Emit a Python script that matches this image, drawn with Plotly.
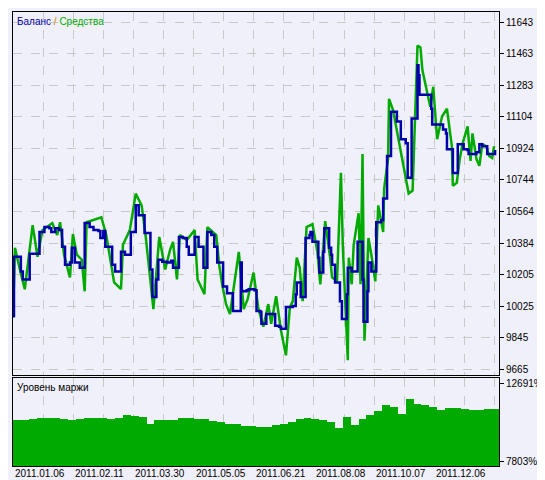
import plotly.graph_objects as go

# balance curve: trade index -> balance
bal_idx = [0, 0.5, 3, 4, 5, 7, 8.5, 12.5, 13.5, 16, 18.5, 19.5, 21.5, 23.5, 25, 26.5, 29, 30, 31.5, 34, 36,
           36.5, 39, 41, 43.5, 44.5, 46, 47, 49, 50.5, 52, 54, 55, 57, 59, 60, 61.5, 62.5, 64, 66.5, 67, 69,
           70, 71, 73, 74, 76, 78.5, 80.5, 81.5, 84, 84.5, 86.5, 88.5, 89.5, 91.5, 92.5, 94.5, 96.5, 97, 98.5,
           99, 101, 102.5, 104, 106.5, 107, 109, 111.5, 112, 114, 116, 116.5, 119, 120, 123, 124, 126, 126.5,
           128.5, 129, 132.5, 133.5, 135.5, 136.5, 138.5, 139, 142.5, 144, 144.5, 146, 146.5, 148.5, 149, 151,
           151.5, 152.5, 154.5, 155.5, 156, 157, 158, 158.5, 160, 161, 162, 162.5, 164, 166, 166.5, 167.5,
           169.5, 170, 170.5, 172.5, 175, 175.5, 177.5, 178, 178.5, 180, 180.5, 181, 182.5, 184.5, 185, 187.5,
           188.5, 190, 190.5, 192, 192.5, 194.5, 195.5, 197.5, 200, 201, 202.5, 203, 205, 206, 206.5, 207,
           211.5, 213, 213.5, 217.5, 219, 220.5, 221, 223.5, 224, 226, 226.5, 228.5, 229.5, 231.5, 232, 234.5,
           236, 237.5, 239, 241.5, 244, 245.5]
bal_val = [9969, 10306, 10306, 10222, 10177, 10177, 10323, 10323, 10447, 10475, 10469, 10447, 10469, 10458,
           10363, 10261, 10273, 10357, 10273, 10244, 10244, 10498, 10475, 10458, 10453, 10413, 10453, 10363,
           10363, 10261, 10222, 10222, 10334, 10318, 10318, 10447, 10447, 10599, 10543, 10543, 10441, 10441,
           10233, 10076, 10177, 10289, 10278, 10273, 10284, 10244, 10244, 10419, 10413, 10363, 10318, 10318,
           10419, 10363, 10363, 10244, 10244, 10447, 10430, 10363, 10273, 10273, 10137, 10098, 10098, 9997,
           9997, 10273, 10109, 10115, 10121, 10115, 9997, 9991, 9924, 9924, 9980, 9980, 9913, 9907, 9896,
           9896, 10019, 10025, 10092, 10160, 10160, 10076, 10076, 10413, 10430, 10447, 10391, 10391, 10301,
           10216, 10216, 10334, 10469, 10469, 10357, 10318, 10261, 10160, 10160, 10053, 9952, 9952, 10092,
           10244, 10222, 10222, 10391, 10391, 10177, 9935, 9935, 10109, 10273, 10222, 10222, 10503, 10514,
           10638, 10638, 10880, 10880, 11133, 11133, 11077, 10976, 10953, 10756, 10756, 11094, 11094, 11397,
           11341, 11229, 11229, 11150, 11060, 11060, 11032, 11009, 10919, 10919, 10784, 10784, 10947, 10947,
           10919, 10914, 10891, 10891, 10902, 10947, 10936, 10891, 10891, 10914]

# equity curve
eq_idx = [0, 1, 3.5, 6, 10, 12.5, 15, 20, 22.5, 24, 26, 29, 30.5, 32.5, 35, 36.5, 37.5, 45, 47.5, 51.5, 55,
          56, 59.5, 62.5, 65.5, 67.5, 71.5, 74.5, 77.5, 80, 81.5, 83.5, 85, 88.5, 92.5, 94, 97.5, 99, 103.5,
          105, 106.5, 108.5, 110.5, 115, 117.5, 119.5, 122.5, 125, 127.5, 130, 131.5, 134, 136.5, 139, 141,
          142.5, 144.5, 146, 147.5, 149.5, 152.5, 155, 156.5, 159, 161.5, 162.5, 165, 167, 168, 170.5, 171,
          172.5, 173.5, 176, 177, 178, 179, 181, 182.5, 184.5, 186, 188.5, 189, 191, 191.5, 193.5, 201.5,
          203.5, 206, 207.5, 208.5, 210.5, 212.5, 214, 216, 218.5, 221, 223.5, 224, 226, 227.5, 229, 231.5,
          233, 234, 236, 237.5, 239, 241, 242.5, 244, 245]
eq_val = [9958, 10357, 10233, 10121, 10486, 10306, 10458, 10498, 10430, 10503, 10318, 10188, 10436, 10318,
          10289, 10109, 10503, 10531, 10430, 10160, 10121, 10374, 10458, 10666, 10599, 10430, 10008, 10419,
          10233, 10346, 10391, 10177, 10430, 10402, 10458, 10177, 10092, 10475, 10430, 10261, 10149, 10036,
          9980, 10334, 10008, 10064, 10216, 10008, 9907, 10036, 9924, 10081, 9884, 9744, 10019, 10053, 10301,
          10244, 10053, 10475, 10492, 10334, 10149, 10509, 10301, 10188, 10166, 10784, 10357, 9716, 10301,
          10149, 10374, 10554, 10149, 10891, 9828, 10413, 10318, 10166, 10599, 10447, 10694, 10863, 11206,
          11144, 10666, 10683, 11510, 11499, 11369, 11257, 11161, 11274, 10976, 11105, 11150, 10936, 10711,
          10728, 10863, 10953, 11049, 10852, 11009, 10863, 10824, 10947, 10936, 10880, 10869, 10936]

# margin level, % (one bar per 4 trades)
margin_val = [10391, 10391, 10498, 10560, 10541, 10560, 10480, 10391, 10500, 10560, 10560, 10540, 10450,
              10520, 10705, 10664, 10600, 10185, 10391, 10400, 10435, 10520, 10541, 10498, 10470, 10350,
              10288, 10170, 10141, 10040, 10015, 9977, 9990, 10078, 10150, 10288, 10450, 10560, 10498, 10435,
              10300, 9871, 10604, 10100, 10500, 10705, 11000, 11331, 11231, 10811, 11751, 11438, 11331, 11231,
              11018, 11187, 11150, 11124, 11050, 11062, 11100, 11124]
margin_idx = [2 + 4 * i for i in range(len(margin_val))]

bal_ticks = [9665, 9845, 10025, 10205, 10384, 10564, 10744, 10924, 11104, 11283, 11463, 11643]
margin_ticks = [7803, 12691]
date_pos = [0, 30.65, 61.3, 91.95, 122.6, 153.25, 183.9, 214.55]
date_labels = ["2011.01.06", "2011.02.11", "2011.03.30", "2011.05.05",
               "2011.06.21", "2011.08.08", "2011.10.07", "2011.12.06"]

BG = "#f0f0fa"
GRID = "#c8c8c8"
GREEN = "#00aa00"
BLUE = "#0000aa"
FONT = "Liberation Sans"

fig = go.Figure()
fig.add_trace(go.Scatter(x=eq_idx, y=eq_val, mode="lines", line=dict(color=GREEN, width=2.5),
                         xaxis="x", yaxis="y"))
fig.add_trace(go.Scatter(x=bal_idx, y=bal_val, mode="lines", line=dict(color=BLUE, width=2.5, shape="hv"),
                         xaxis="x", yaxis="y"))
fig.add_trace(go.Bar(x=margin_idx, y=[v - 7490 for v in margin_val], base=7490, width=4,
                     marker=dict(color=GREEN, line=dict(width=0)), xaxis="x2", yaxis="y2"))

xcommon = dict(range=[0, 247.5], tick0=0, dtick=15.325, showgrid=True, gridcolor=GRID,
               griddash="dash", showticklabels=False, zeroline=False, showline=True,
               linecolor="black", mirror=True, ticks="")
fig.update_layout(
    width=545, height=480, margin=dict(l=5, r=54, t=4, b=22),
    paper_bgcolor=BG, plot_bgcolor=BG, showlegend=False, bargap=0,
    font=dict(family=FONT, size=10, color="black"),
    xaxis=dict(domain=[0, 1], anchor="y", **xcommon),
    xaxis2=dict(domain=[0, 1], anchor="y2", **xcommon),
    yaxis=dict(domain=[0.2, 1], range=[9631, 11701], side="right", tickvals=bal_ticks,
               ticktext=[str(v) for v in bal_ticks],
               ticks="outside", ticklen=4, tickcolor="black", showgrid=True, gridcolor=GRID,
               griddash="dash", zeroline=False, showline=True, linecolor="black", mirror=True),
    yaxis2=dict(domain=[0, 0.194], range=[7490, 13067], side="right", tickvals=margin_ticks,
                ticktext=[f"{v}%" for v in margin_ticks], ticks="outside", ticklen=4,
                tickcolor="black", showgrid=False, zeroline=False, showline=True,
                linecolor="black", mirror=True),
)

for p, lab in zip(date_pos, date_labels):
    fig.add_annotation(x=p, y=0, xref="x2", yref="paper", text=lab, showarrow=False,
                       xanchor="left", yanchor="top", yshift=0, font=dict(size=10))

fig.add_annotation(x=0.005, y=0.995, xref="paper", yref="paper", showarrow=False,
                   xanchor="left", yanchor="top",
                   text=f"<span style='color:{BLUE}'>Баланс</span> <span style='color:#d08000'>/</span> "
                        f"<span style='color:{GREEN}'>Средства</span>")
fig.add_annotation(x=0.005, y=0.19, xref="paper", yref="paper", showarrow=False,
                   xanchor="left", yanchor="top", text="Уровень маржи")

fig.write_html("out.html")
